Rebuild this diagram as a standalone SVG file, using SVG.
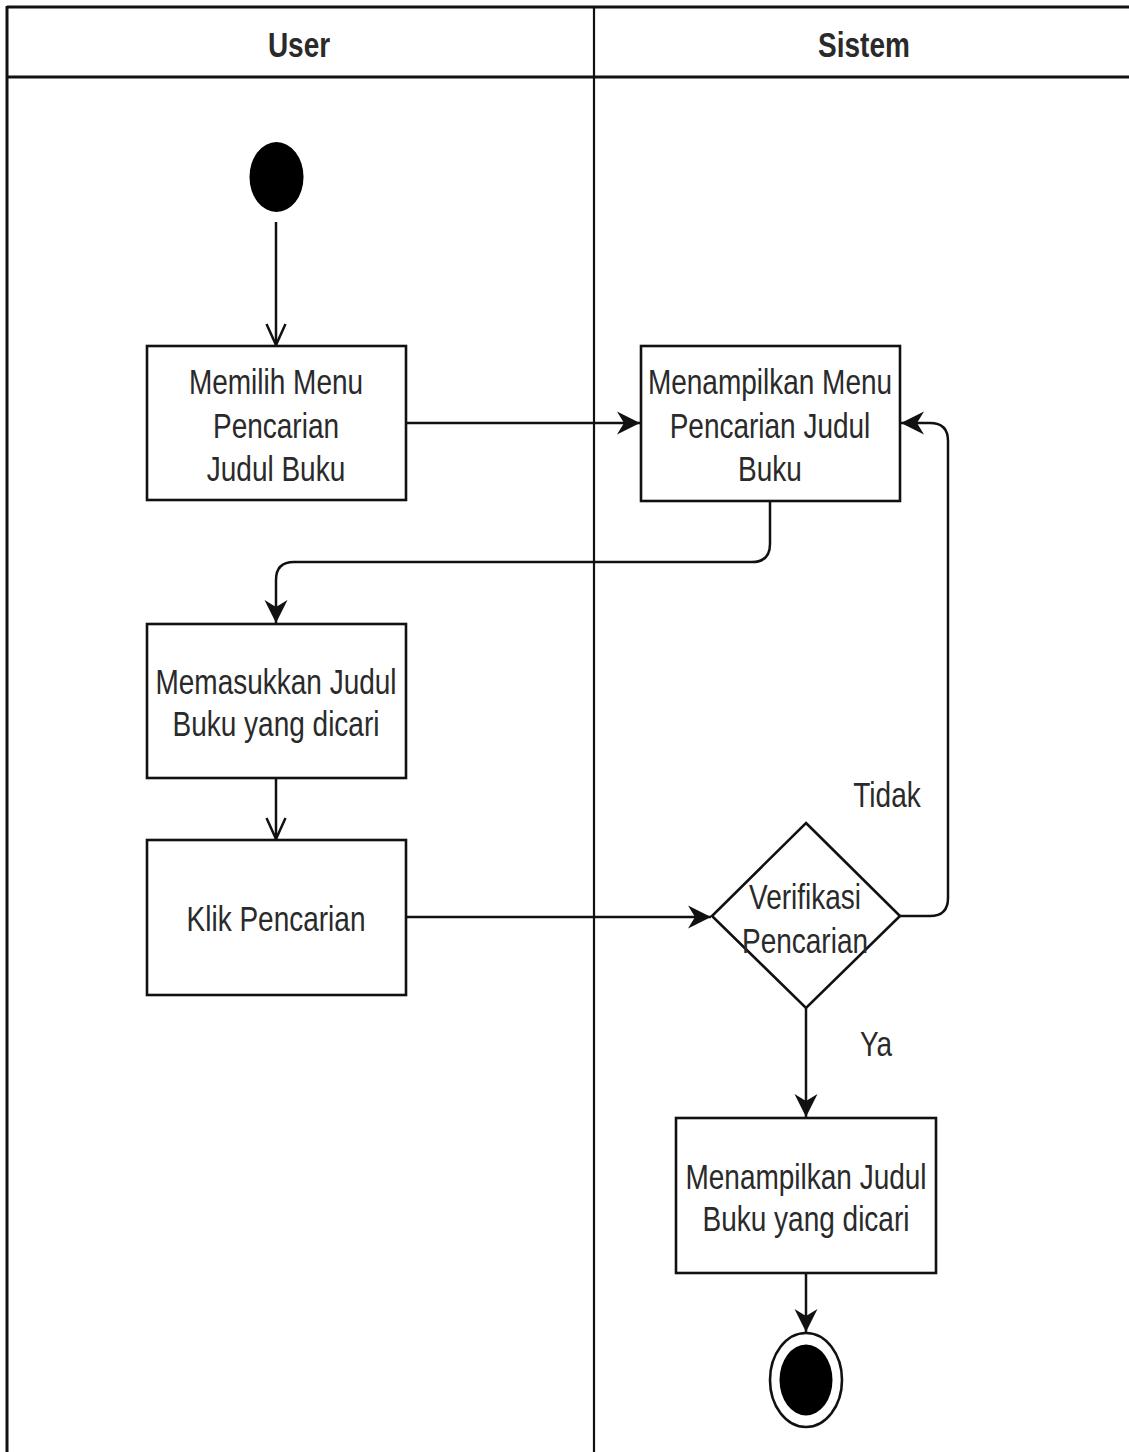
<svg xmlns="http://www.w3.org/2000/svg" width="1129" height="1452" viewBox="0 0 1129 1452">
<style>
  .frame{stroke:#111;stroke-width:2.2;fill:none}
  .hdr{stroke:#111;stroke-width:3;fill:none}
  .box{fill:#fff;stroke:#111;stroke-width:2.6}
  .edge{fill:none;stroke:#111;stroke-width:2.5}
  .t{font-family:"Liberation Sans",Arial,sans-serif;font-size:28px;fill:#2a2a2a;text-anchor:middle}
  .h{font-family:"Liberation Sans",Arial,sans-serif;font-size:28px;font-weight:bold;fill:#2a2a2a;text-anchor:middle}
</style>
<defs>
  <marker id="arrFill" markerUnits="userSpaceOnUse" markerWidth="28" markerHeight="28" viewBox="-25 -14 28 28" refX="0" refY="0" orient="auto">
    <path d="M0,0 L-23,-11.5 L-16,0 L-23,11.5 Z" fill="#111"/>
  </marker>
  <marker id="arrOpen" markerUnits="userSpaceOnUse" markerWidth="28" markerHeight="28" viewBox="-25 -14 28 28" refX="0" refY="0" orient="auto">
    <path d="M-21,-9.5 L0,0 L-21,9.5" fill="none" stroke="#111" stroke-width="2.5"/>
  </marker>
</defs>
<rect width="1129" height="1452" fill="#fff"/>
<g id="swimlanes">
  <line class="hdr" x1="7" y1="7" x2="1129" y2="7"/>
  <line class="hdr" x1="7" y1="77" x2="1129" y2="77"/>
  <line class="hdr" x1="7" y1="6" x2="7" y2="1452"/>
  <line class="frame" x1="594" y1="7" x2="594" y2="1452"/>
  <text class="h" transform="translate(299,57) scale(1,1.28)">User</text>
  <text class="h" transform="translate(864,57) scale(1,1.28)">Sistem</text>
</g>
<g id="connectors">
  <line class="edge" x1="276" y1="222" x2="276" y2="345" marker-end="url(#arrOpen)"/>
  <line class="edge" x1="406" y1="423" x2="640" y2="423" marker-end="url(#arrFill)"/>
  <path class="edge" d="M770,501 V544 Q770,562 752,562 H294 Q276,562 276,580 V623" marker-end="url(#arrFill)"/>
  <line class="edge" x1="276" y1="778" x2="276" y2="839" marker-end="url(#arrOpen)"/>
  <line class="edge" x1="406" y1="917" x2="711" y2="917" marker-end="url(#arrFill)"/>
  <path class="edge" d="M900,916 H930 Q948,916 948,898 V441 Q948,423 930,423 H901" marker-end="url(#arrFill)"/>
  <line class="edge" x1="806" y1="1008" x2="806" y2="1117" marker-end="url(#arrFill)"/>
  <line class="edge" x1="806" y1="1273" x2="806" y2="1332" marker-end="url(#arrFill)"/>
  <text class="t" transform="translate(887,807) scale(1,1.28)">Tidak</text>
  <text class="t" transform="translate(876,1056) scale(1,1.28)">Ya</text>
</g>
<g id="start">
  <ellipse cx="276.5" cy="177" rx="27" ry="35" fill="#000"/>
</g>
<g id="memilih-menu">
  <rect class="box" x="147" y="346" width="259" height="154"/>
  <text class="t" transform="translate(276,394) scale(1,1.28)"><tspan x="0" y="0">Memilih Menu</tspan><tspan x="0" y="34">Pencarian</tspan><tspan x="0" y="68">Judul Buku</tspan></text>
</g>
<g id="menampilkan-menu">
  <rect class="box" x="641" y="346" width="259" height="155"/>
  <text class="t" transform="translate(770,394) scale(1,1.28)"><tspan x="0" y="0">Menampilkan Menu</tspan><tspan x="0" y="34">Pencarian Judul</tspan><tspan x="0" y="68">Buku</tspan></text>
</g>
<g id="memasukkan-judul">
  <rect class="box" x="147" y="624" width="259" height="154"/>
  <text class="t" transform="translate(276,694) scale(1,1.28)"><tspan x="0" y="0">Memasukkan Judul</tspan><tspan x="0" y="33">Buku yang dicari</tspan></text>
</g>
<g id="klik-pencarian">
  <rect class="box" x="147" y="840" width="259" height="155"/>
  <text class="t" transform="translate(276,931) scale(1,1.28)">Klik Pencarian</text>
</g>
<g id="verifikasi">
  <polygon class="box" points="806,823 900,916 806,1008 712,916"/>
  <text class="t" transform="translate(805,909) scale(1,1.28)"><tspan x="0" y="0">Verifikasi</tspan><tspan x="0" y="34">Pencarian</tspan></text>
</g>
<g id="menampilkan-judul">
  <rect class="box" x="676" y="1118" width="260" height="155"/>
  <text class="t" transform="translate(806,1189) scale(1,1.28)"><tspan x="0" y="0">Menampilkan Judul</tspan><tspan x="0" y="33">Buku yang dicari</tspan></text>
</g>
<g id="end">
  <ellipse cx="806" cy="1380" rx="36" ry="47" fill="#fff" stroke="#111" stroke-width="2.6"/>
  <ellipse cx="806" cy="1380" rx="26.5" ry="35.5" fill="#000"/>
</g>
</svg>
